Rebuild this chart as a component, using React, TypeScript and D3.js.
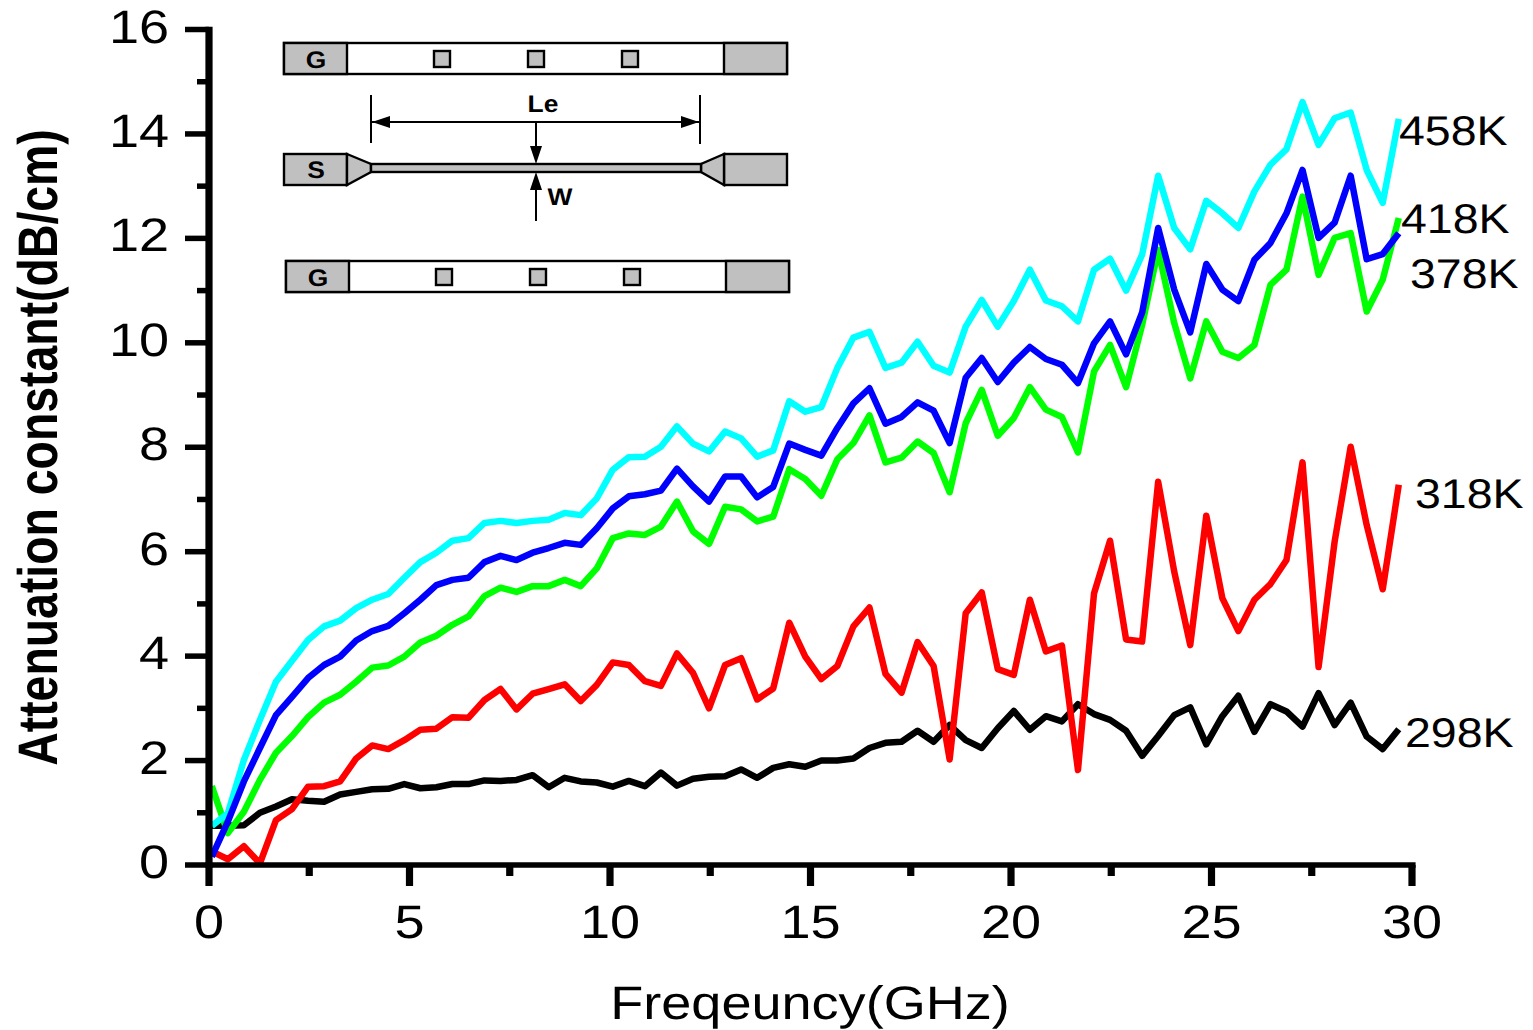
import React, { useEffect, useRef } from 'react';
import * as d3 from 'd3';

// frequency sweep, GHz
const freq = [
  0.07, 0.47, 0.87, 1.27, 1.67, 2.07, 2.47, 2.87, 3.27, 3.67, 4.07, 4.47, 4.87, 5.27, 5.67,
  6.07, 6.47, 6.87, 7.27, 7.67, 8.07, 8.47, 8.87, 9.27, 9.67, 10.07, 10.47, 10.87, 11.27, 11.67,
  12.07, 12.47, 12.87, 13.27, 13.67, 14.07, 14.47, 14.87, 15.27, 15.67, 16.07, 16.47, 16.87, 17.27, 17.67,
  18.07, 18.47, 18.87, 19.27, 19.67, 20.07, 20.47, 20.87, 21.27, 21.67, 22.07, 22.47, 22.87, 23.27, 23.67,
  24.07, 24.47, 24.87, 25.27, 25.67, 26.07, 26.47, 26.87, 27.27, 27.67, 28.07, 28.47, 28.87, 29.27, 29.67,
];

// attenuation constant, dB/cm
const k298 = [
  0.75, 0.75, 0.76, 1.0, 1.12, 1.26, 1.23, 1.21, 1.35, 1.4, 1.45, 1.46, 1.55, 1.47, 1.49, 1.55, 1.55, 1.62, 1.61, 1.63, 1.72, 1.49, 1.67, 1.6, 1.58,
  1.5, 1.61, 1.51, 1.77, 1.52, 1.65, 1.69, 1.7, 1.83, 1.67, 1.86, 1.93, 1.88, 2.0, 2.0, 2.04, 2.24, 2.34, 2.36, 2.57, 2.36, 2.68, 2.39, 2.24, 2.62,
  2.95, 2.59, 2.85, 2.75, 3.08, 2.89, 2.78, 2.57, 2.09, 2.47, 2.87, 3.02, 2.31, 2.85, 3.24, 2.55, 3.08, 2.94, 2.65, 3.29, 2.68, 3.11, 2.46, 2.22, 2.6,
];
const k318 = [
  0.26, 0.11, 0.36, 0.03, 0.86, 1.07, 1.5, 1.51, 1.6, 2.04, 2.29, 2.22, 2.39, 2.59, 2.61, 2.83, 2.82, 3.16, 3.37, 2.98, 3.28, 3.37, 3.46, 3.14, 3.45,
  3.88, 3.83, 3.52, 3.43, 4.05, 3.68, 3.0, 3.83, 3.96, 3.17, 3.38, 4.64, 3.99, 3.56, 3.81, 4.57, 4.93, 3.66, 3.3, 4.27, 3.81, 2.02, 4.82, 5.22, 3.75,
  3.64, 5.08, 4.09, 4.2, 1.82, 5.2, 6.21, 4.32, 4.28, 7.34, 5.62, 4.21, 6.69, 5.11, 4.48, 5.08, 5.38, 5.84, 7.71, 3.79, 6.19, 8.01, 6.51, 5.28, 7.28,
];
const k378 = [
  1.51, 0.61, 1.02, 1.63, 2.15, 2.47, 2.83, 3.11, 3.26, 3.51, 3.78, 3.82, 3.99, 4.26, 4.39, 4.6, 4.76, 5.15, 5.31, 5.23, 5.34, 5.34, 5.46, 5.34, 5.68,
  6.26, 6.35, 6.32, 6.48, 6.96, 6.39, 6.15, 6.86, 6.81, 6.58, 6.67, 7.58, 7.39, 7.07, 7.77, 8.08, 8.61, 7.71, 7.8, 8.11, 7.89, 7.14, 8.46, 9.1, 8.22,
  8.56, 9.15, 8.72, 8.58, 7.9, 9.45, 9.96, 9.15, 10.34, 11.78, 10.38, 9.32, 10.41, 9.83, 9.71, 9.96, 11.11, 11.4, 12.8, 11.3, 12.01, 12.1, 10.6, 11.21, 12.39,
];
const k458 = [
  0.75, 0.99, 2.01, 2.78, 3.51, 3.91, 4.31, 4.57, 4.68, 4.92, 5.08, 5.19, 5.5, 5.8, 5.98, 6.21, 6.26, 6.55, 6.59, 6.55, 6.59, 6.61, 6.74, 6.7, 7.02,
  7.57, 7.81, 7.82, 8.01, 8.4, 8.07, 7.92, 8.3, 8.17, 7.82, 7.94, 8.88, 8.68, 8.77, 9.52, 10.1, 10.21, 9.52, 9.62, 10.02, 9.56, 9.43, 10.31, 10.82, 10.31,
  10.8, 11.4, 10.81, 10.7, 10.41, 11.4, 11.61, 11.0, 11.69, 13.2, 12.2, 11.79, 12.72, 12.48, 12.2, 12.9, 13.41, 13.71, 14.61, 13.79, 14.3, 14.41, 13.31, 12.68, 14.29,
];
const k418 = [
  0.16, 0.83, 1.6, 2.24, 2.87, 3.22, 3.58, 3.83, 3.99, 4.3, 4.48, 4.58, 4.82, 5.08, 5.36, 5.46, 5.5, 5.8, 5.92, 5.84, 5.98, 6.07, 6.17, 6.13, 6.45,
  6.83, 7.06, 7.1, 7.17, 7.59, 7.25, 6.96, 7.44, 7.44, 7.04, 7.24, 8.07, 7.95, 7.84, 8.37, 8.84, 9.13, 8.45, 8.58, 8.86, 8.7, 8.08, 9.33, 9.71, 9.25,
  9.62, 9.92, 9.69, 9.58, 9.23, 9.99, 10.41, 9.78, 10.58, 12.2, 11.02, 10.2, 11.51, 11.02, 10.8, 11.59, 11.91, 12.48, 13.31, 12.01, 12.3, 13.2, 11.6, 11.7, 12.1,
];

const xMajor = [0, 5, 10, 15, 20, 25, 30];
const xMinor = [2.5, 7.5, 12.5, 17.5, 22.5, 27.5];
const yMajor = [0, 2, 4, 6, 8, 10, 12, 14, 16];
const yMinor = [1, 3, 5, 7, 9, 11, 13, 15];

const FONT = '"Liberation Sans", Arial, sans-serif';
const X0 = 209;
const X1 = 1412;
const Y0 = 865;
const Y1 = 29.5;
const STRETCH = 1.15; // the picture is a bit wider than tall

const x = d3.scaleLinear().domain([0, 30]).range([X0, X1]);
const y = d3.scaleLinear().domain([0, 16]).range([Y0, Y1]);

// drawn in this order, blue ends up on top
const curves = [
  { name: '298K', values: k298, color: '#000000', lx: 1405, ly: 747 },
  { name: '318K', values: k318, color: '#ff0000', lx: 1415, ly: 508 },
  { name: '378K', values: k378, color: '#00ff00', lx: 1410, ly: 288 },
  { name: '458K', values: k458, color: '#00ffff', lx: 1399, ly: 145 },
  { name: '418K', values: k418, color: '#0000ff', lx: 1401, ly: 233 },
];

const GRAY = '#c0c0c0';

const Pad = ({ dx, top }: { dx: number; top: number }) => (
  <g fill={GRAY} stroke="#000" strokeWidth={2.4}>
    <rect x={284 + dx} y={top} width={503} height={31} fill="#fff" />
    <rect x={284 + dx} y={top} width={63} height={31} />
    <rect x={724 + dx} y={top} width={63} height={31} />
    <rect x={434 + dx} y={top + 8} width={16} height={16} />
    <rect x={528 + dx} y={top + 8} width={16} height={16} />
    <rect x={622 + dx} y={top + 8} width={16} height={16} />
    <text transform={`translate(${316 + dx},${top + 25}) scale(1.1,1)`} fill="#000" stroke="none" textAnchor="middle" fontFamily={FONT} fontSize={24} fontWeight="bold">G</text>
  </g>
);

const Inset = () => (
  <g>
    <Pad dx={0} top={43} />
    <Pad dx={2} top={261} />
    <g fill={GRAY} stroke="#000" strokeWidth={2.4}>
      <rect x={284} y={154} width={63} height={31} />
      <rect x={724} y={154} width={63} height={31} />
      <path d="M347,154 L371,164 L371,172 L347,185 Z" />
      <path d="M724,154 L701,164 L701,172 L724,185 Z" />
      <rect x={371} y={164} width={330} height={8} />
    </g>
    <g stroke="#000" strokeWidth={2} fill="none">
      <path d="M371,95 V143" />
      <path d="M700,95 V144" />
      <path d="M372,122 H699" />
      <path d="M536,122 V150" />
      <path d="M536,185 V221" />
    </g>
    <g fill="#000">
      <path d="M372,122 L390,116 L390,128 Z" />
      <path d="M699,122 L681,116 L681,128 Z" />
      <path d="M536,164 L530,146 L542,146 Z" />
      <path d="M536,172 L530,190 L542,190 Z" />
    </g>
    <g fontFamily={FONT} fontSize={24} fontWeight="bold" textAnchor="middle" fill="#000">
      <text transform="translate(316,178) scale(1.1,1)">S</text>
      <text transform="translate(543,112) scale(1.1,1)">Le</text>
      <text transform="translate(560,205) scale(1.1,1)">W</text>
    </g>
  </g>
);

export default function App() {
  const axesRef = useRef<SVGGElement>(null);

  useEffect(() => {
    const g = d3.select(axesRef.current);
    g.selectAll('*').remove();

    const minorLeft = d3.axisLeft(y).tickValues(yMinor).tickSize(12).tickFormat(() => '').offset(0);
    const majorLeft = d3.axisLeft(y).tickValues(yMajor).tickSize(24).tickFormat(d3.format('d')).offset(0);
    const minorBottom = d3.axisBottom(x).tickValues(xMinor).tickSize(11).tickFormat(() => '').offset(0);
    const majorBottom = d3.axisBottom(x).tickValues(xMajor).tickSize(21).tickFormat(d3.format('d')).offset(0);

    const left = g.append('g').attr('transform', `translate(${X0},0)`);
    left.append('g').call(minorLeft);
    left.append('g').call(majorLeft);
    const bottom = g.append('g').attr('transform', `translate(0,${Y0})`);
    bottom.append('g').call(minorBottom);
    bottom.append('g').call(majorBottom);

    g.selectAll('.domain').remove();
    left.selectAll('line').attr('stroke', '#000').attr('stroke-width', 5.5);
    bottom.selectAll('line').attr('stroke', '#000').attr('stroke-width', 7.2);

    // axis spines
    g.append('line').attr('x1', X0).attr('x2', X0).attr('y1', Y1 - 2.7).attr('y2', Y0 + 3)
      .attr('stroke', '#000').attr('stroke-width', 7.2);
    g.append('line').attr('x1', X0 - 3.6).attr('x2', X1 + 3.6).attr('y1', Y0).attr('y2', Y0)
      .attr('stroke', '#000').attr('stroke-width', 5.7);

    // tick labels are widened like the rest of the picture
    left.selectAll('text')
      .attr('x', null).attr('dy', null)
      .attr('text-anchor', 'end')
      .attr('font-family', FONT).attr('font-size', 47).attr('fill', '#000')
      .attr('transform', `translate(-40,13) scale(${STRETCH},1)`);
    bottom.selectAll('text')
      .attr('y', null).attr('dy', null)
      .attr('text-anchor', 'middle')
      .attr('font-family', FONT).attr('font-size', 47).attr('fill', '#000')
      .attr('transform', `translate(0,73) scale(${STRETCH},1)`);
  }, []);

  const line = d3.line<number>()
    .x((_, i) => x(freq[i]))
    .y((d) => y(d));

  return (
    <svg width={1533} height={1030} textRendering="geometricPrecision" style={{ position: 'absolute', left: 0, top: 0, background: '#fff' }}>
      <Inset />
      {curves.map((c) => (
        <path key={c.name} d={line(c.values) ?? ''} fill="none" stroke={c.color} strokeWidth={6.5} strokeLinejoin="round" />
      ))}
      <g ref={axesRef} />
      {curves.map((c) => (
        <text key={c.name} transform={`translate(${c.lx},${c.ly}) scale(1.12,1)`} fontFamily={FONT} fontSize={41.5} fill="#000">
          {c.name}
        </text>
      ))}
      <text transform={`translate(810,1019) scale(${STRETCH},1)`} textAnchor="middle" fontFamily={FONT} fontSize={47} fill="#000">
        Freqeuncy(GHz)
      </text>
      <text transform={`translate(57,447.5) rotate(-90) scale(1,1.2)`} textAnchor="middle" fontFamily={FONT} fontSize={46.4} fontWeight="bold" fill="#000">
        Attenuation constant(dB/cm)
      </text>
    </svg>
  );
}
